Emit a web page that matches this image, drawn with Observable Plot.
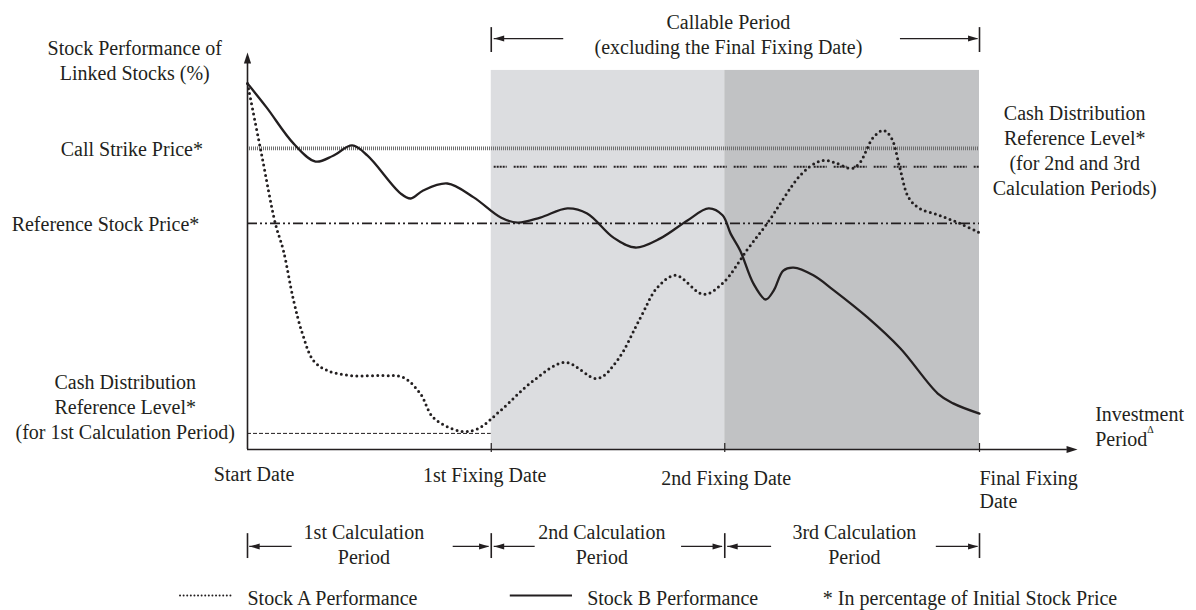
<!DOCTYPE html>
<html>
<head>
<meta charset="utf-8">
<script src="https://cdn.jsdelivr.net/npm/d3@7"></script>
<script src="https://cdn.jsdelivr.net/npm/@observablehq/plot@0.6"></script>
<style>
  html, body { margin: 0; padding: 0; background: #fff; }
  #chart svg { display: block; }
</style>
</head>
<body>
<div id="chart"></div>
<script>
// ---- Data (x: investment period, 0 = Start Date, 100 = Final Fixing Date; y: % of initial price) ----
const dateNames = ["Start Date", "1st Fixing Date", "2nd Fixing Date", "Final Fixing\nDate"];
const dateX = [0, 33.3, 65.2, 100];

const periodNames = ["1st Calculation\nPeriod", "2nd Calculation\nPeriod", "3rd Calculation\nPeriod"];
const periodShades = ["#dcdde0", "#c1c2c4"]; // callable period, 2nd and 3rd calc periods

const callStrike = 82.3;
const refStockPrice = 61.8;
const cashDist1 = 4.4;
const cashDist23 = 77.3;
const chartTop = 103.6;

const stockAX = [0, 1.9, 3.8, 4.9, 6.3, 7.5, 9.0, 10.9, 14.1, 18.6, 21.3, 23.6, 25.4, 29.1, 31.4, 34.6, 39.1, 43.4, 47.8, 50.5, 53.7, 56.0, 58.5, 62.3, 65.0, 68.3, 71.0, 75.5, 77.7, 79.1, 80.5, 82.5, 83.6, 85.5, 86.9, 88.0, 89.1, 90.3, 91.8, 94.5, 97.3, 99.9];
const stockAY = [100, 80.9, 61.8, 54.4, 40.7, 31.7, 24.3, 21.6, 20.2, 20.2, 19.7, 15.3, 8.7, 5.0, 5.6, 10.7, 18.9, 23.8, 19.4, 24.3, 36.1, 44.3, 47.6, 42.4, 45.6, 54.7, 61.8, 74.9, 78.4, 79.0, 78.2, 76.8, 78.2, 85.3, 87.2, 85.0, 77.1, 68.9, 65.9, 64.0, 61.8, 59.3];

const stockBX = [0, 2.6, 6.3, 9.3, 11.7, 14.3, 16.4, 20.9, 22.3, 24.0, 27.3, 30.9, 34.6, 36.9, 40.0, 43.7, 46.4, 50.0, 53.0, 56.4, 60.1, 63.0, 64.9, 66.0, 67.3, 69.1, 70.8, 71.9, 73.2, 74.6, 77.3, 80.1, 84.7, 89.2, 94.3, 96.4, 100];
const stockBY = [100, 93.5, 83.6, 78.7, 80.3, 83.1, 80.3, 70.0, 68.6, 70.8, 72.7, 68.9, 63.4, 62.0, 63.4, 65.9, 64.5, 57.9, 55.2, 57.7, 62.6, 65.9, 64.0, 59.0, 54.4, 45.4, 41.0, 43.5, 48.9, 49.7, 47.6, 43.5, 36.1, 27.6, 15.3, 12.6, 9.8];

const legendNames = ["Stock A Performance", "Stock B Performance", "* In percentage of Initial Stock Price"];

// ---- Build tables ----
const stockA = stockAX.map((x, i) => ({x, y: stockAY[i]}));
const stockB = stockBX.map((x, i) => ({x, y: stockBY[i]}));
const shades = [
  {x1: dateX[1], x2: dateX[2], fill: periodShades[0]},
  {x1: dateX[2], x2: dateX[3], fill: periodShades[1]}
];

const ink = "#231f20";
const font = "Liberation Serif";

// arrows: shaft from 'from' to tip 'to' at height y
const bY = -26.5;          // bottom calculation-period brackets
const tY = 112.3;          // top callable-period bracket
const arrows = [
  {from: 6.1, to: 0.3, y: bY}, {from: 28.1, to: 33.0, y: bY},
  {from: 39.3, to: 33.7, y: bY}, {from: 59.3, to: 64.9, y: bY},
  {from: 71.6, to: 65.6, y: bY}, {from: 94.1, to: 99.8, y: bY},
  {from: 43.2, to: 33.7, y: tY}, {from: 89.2, to: 99.8, y: tY}
];
const bars = [
  ...dateX.map(x => ({x, y1: -23.0, y2: -29.8})),
  {x: dateX[1], y1: 115.3, y2: 108.5}, {x: dateX[3], y1: 115.3, y2: 108.5}
];
const periodMid = [15.9, 48.4, 82.9];

const txt = (data, opts) => Plot.text(data, {fontFamily: font, fontSize: 20, fill: ink, lineHeight: 1.25, ...opts});

const chart = Plot.plot({
  width: 1196,
  height: 610,
  marginLeft: 247,
  marginRight: 217,
  marginTop: 52,
  marginBottom: 161,
  x: {domain: [0, 100], axis: null},
  y: {domain: [0, 108.5], axis: null},
  style: {background: "#fff", overflow: "visible"},
  marks: [
    // shaded periods
    Plot.rect(shades, {x1: "x1", x2: "x2", y1: 0, y2: chartTop, fill: "fill"}),
    // reference levels
    Plot.ruleY([callStrike], {x1: 0, x2: 100, stroke: "#6e6e6e", strokeWidth: 3.6, strokeDasharray: "1 1"}),
    Plot.ruleY([cashDist23], {x1: 33.7, x2: 100, stroke: ink, strokeWidth: 2, strokeDasharray: "2 1 2 1 2 1 2 1 1 7"}),
    Plot.ruleY([refStockPrice], {x1: 0, x2: 100, stroke: ink, strokeWidth: 1.6, strokeDasharray: "10 3 2 3 2 3"}),
    Plot.ruleY([cashDist1], {x1: 0, x2: dateX[1], stroke: ink, strokeWidth: 1, strokeDasharray: "4 2"}),
    // stocks
    Plot.line(stockB, {x: "x", y: "y", curve: "catmull-rom", stroke: ink, strokeWidth: 2.3}),
    Plot.line(stockA, {x: "x", y: "y", curve: "catmull-rom", stroke: ink, strokeWidth: 3, strokeDasharray: "0 5.2", strokeLinecap: "round"}),
    // axes
    Plot.ruleX([0], {y1: 0, y2: 107, stroke: ink, strokeWidth: 1.6}),
    Plot.ruleY([0], {x1: 0, x2: 112, stroke: ink, strokeWidth: 1.6}),
    Plot.vector([{x: 0, y: 108.5}], {x: "x", y: "y", rotate: 0, shape: "spike", length: 11, r: 3.6, anchor: "end", fill: ink, stroke: "none"}),
    Plot.vector([{x: 113.4, y: 0}], {x: "x", y: "y", rotate: 90, shape: "spike", length: 11, r: 3.6, anchor: "end", fill: ink, stroke: "none"}),
    Plot.ruleX(dateX.slice(1), {y1: -0.8, y2: 1.64, stroke: ink, strokeWidth: 1.2}),
    // date labels
    txt(dateNames.slice(0, 3), {x: [0.9, 32.4, 65.4], y: [-6.3, -6.6, -7.4], text: d => d}),
    txt([dateNames[3]], {x: 100, y: -10.8, text: d => d, textAnchor: "start", lineHeight: 1.15}),
    // period brackets
    Plot.ruleX(bars, {x: "x", y1: "y1", y2: "y2", stroke: ink, strokeWidth: 1.6}),
    Plot.ruleY(arrows, {y: "y", x1: "from", x2: "to", stroke: ink, strokeWidth: 1.2}),
    Plot.vector(arrows, {x: "to", y: "y", rotate: d => d.to > d.from ? 90 : -90, shape: "spike", length: 10, r: 3, anchor: "end", fill: ink, stroke: "none"}),
    txt(periodNames, {x: periodMid, y: -25.8, text: d => d}),
    txt(["Callable Period\n(excluding the Final Fixing Date)"], {x: 65.7, y: 113.8, text: d => d}),
    // left level labels
    txt(["Stock Performance of\nLinked Stocks (%)"], {x: -15.4, y: 106.6, text: d => d}),
    txt(["Call Strike Price*"], {x: -15.8, y: callStrike, text: d => d}),
    txt(["Reference Stock Price*"], {x: -19.4, y: refStockPrice, text: d => d}),
    txt(["Cash Distribution\nReference Level*\n(for 1st Calculation Period)"], {x: -16.7, y: 12.0, text: d => d}),
    // right labels
    txt(["Cash Distribution\nReference Level*\n(for 2nd and 3rd\nCalculation Periods)"], {x: 113.0, y: 81.9, text: d => d}),
    txt(["Investment\nPeriod"], {x: 115.8, y: 6.6, text: d => d, textAnchor: "start"}),
    txt(["Δ"], {x: 122.9, y: 5.6, text: d => d, textAnchor: "start", fontSize: 10}),
    // legend
    Plot.ruleY([-39.9], {x1: -9.15, x2: -2.05, stroke: ink, strokeWidth: 2, strokeDasharray: "0 3.6", strokeLinecap: "round"}),
    Plot.ruleY([-39.9], {x1: 35.9, x2: 44.4, stroke: ink, strokeWidth: 2.2}),
    txt(legendNames, {x: [0, 46.4, 78.6], y: -40.3, text: d => d, textAnchor: "start"})
  ]
});
document.getElementById("chart").appendChild(chart);
</script>
</body>
</html>
